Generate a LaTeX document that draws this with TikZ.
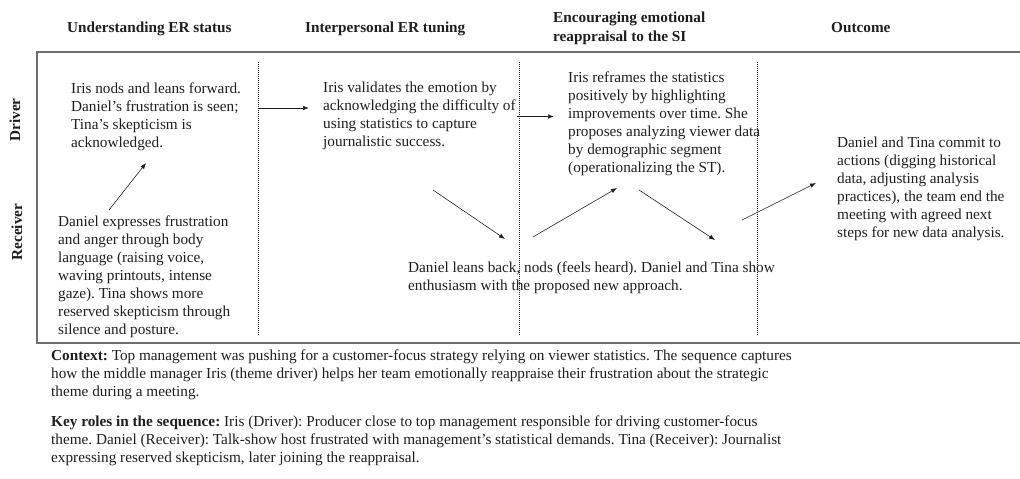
\documentclass[tikz,border=0pt]{standalone}
\usepackage{fontspec}
\setmainfont{Liberation Serif}
\usetikzlibrary{arrows.meta}
\definecolor{ink}{HTML}{1E1E1E}
\definecolor{framegray}{HTML}{6E6E6E}
\newcommand{\bodyfont}{\fontsize{15.25}{18}\selectfont\frenchspacing}
\begin{document}
\begin{tikzpicture}[x=1pt,y=-1pt,
  txt/.style={font=\bodyfont,anchor=north west,inner sep=0pt,align=left,text=ink},
  head/.style={font=\bodyfont\bfseries,anchor=base west,inner sep=0pt,align=left,text=ink},
  headtop/.style={txt,font=\bodyfont\bfseries},
  lane/.style={font=\bodyfont\bfseries,inner sep=0pt,rotate=90,text=ink},
  flow/.style={-{Latex[length=6pt,width=4.5pt]},line width=0.6pt,draw=ink},
  divider/.style={line width=0.7pt,dash pattern=on 1pt off 1pt,draw=ink},
  frame/.style={line width=1.3pt,draw=framegray}]

\useasboundingbox (0,0) rectangle (1020,479);

% column headings
\node[head] (h1) at (67,32) {Understanding ER status};
\node[head] (h2) at (305,32) {Interpersonal ER tuning};
\node[headtop] (h3) at (553,10.2) {\strut Encouraging emotional\\reappraisal to the SI};
\node[head] (h4) at (831,32) {Outcome};

% swim-lane labels
\node[lane] (ldriver) at (15,120) {Driver};
\node[lane] (lreceiver) at (17,232) {Receiver};

% frame (open on the right)
\draw[frame] (1020,52) -- (37,52) -- (37,343) -- (1020,343);

% phase dividers
\foreach \xd/\nm in {258.5/d1,519/d2,757/d3}{
  \coordinate (\nm top) at (\xd,62);
  \coordinate (\nm bot) at (\xd,335);
  \draw[divider] (\nm top) -- (\nm bot);
}

% sequence steps
\node[txt] (a1) at (71,80.4) {\strut Iris nods and leans forward.\\Daniel’s frustration is seen;\\Tina’s skepticism is\\acknowledged.};
\node[txt] (r1) at (58,214) {\strut Daniel expresses frustration\\and anger through body\\language (raising voice,\\waving printouts, intense\\gaze). Tina shows more\\reserved skepticism through\\silence and posture.};
\node[txt] (a2) at (323,79.4) {\strut Iris validates the emotion by\\acknowledging the difficulty of\\using statistics to capture\\journalistic success.};
\node[txt] (r2) at (408,259.4) {\strut Daniel leans back, nods (feels heard). Daniel and Tina show\\enthusiasm with the proposed new approach.};
\node[txt] (a3) at (568,69.4) {\strut Iris reframes the statistics\\positively by highlighting\\improvements over time. She\\proposes analyzing viewer data\\by demographic segment\\(operationalizing the ST).};
\node[txt] (out) at (837,134.4) {\strut Daniel and Tina commit to\\actions (digging historical\\data, adjusting analysis\\practices), the team end the\\meeting with agreed next\\steps for new data analysis.};

% notes below the frame
\node[txt] (ctx) at (51,347.4) {\strut\textbf{Context:} Top management was pushing for a customer-focus strategy relying on viewer statistics. The sequence captures\\how the middle manager Iris (theme driver) helps her team emotionally reappraise their frustration about the strategic\\theme during a meeting.};
\node[txt] (roles) at (51,413.4) {\strut\textbf{Key roles in the sequence:} Iris (Driver): Producer close to top management responsible for driving customer-focus\\theme. Daniel (Receiver): Talk-show host frustrated with management’s statistical demands. Tina (Receiver): Journalist\\expressing reserved skepticism, later joining the reappraisal.};

% connector end points
\coordinate (r1a1s) at (109,210);
\coordinate (r1a1e) at (146,163);
\coordinate (a1a2s) at (259,108);
\coordinate (a1a2e) at (309,108);
\coordinate (a2r2s) at (433,190);
\coordinate (a2r2e) at (505,239);
\coordinate (a2a3s) at (517,116.5);
\coordinate (a2a3e) at (554,116.5);
\coordinate (r2a3s) at (533,237);
\coordinate (r2a3e) at (617,188);
\coordinate (a3r2s) at (639,190);
\coordinate (a3r2e) at (715,240);
\coordinate (r2outs) at (742,220);
\coordinate (r2oute) at (816,183);

\draw[flow] (r1a1s) -- (r1a1e);
\draw[flow] (a1a2s) -- (a1a2e);
\draw[flow] (a2r2s) -- (a2r2e);
\draw[flow] (a2a3s) -- (a2a3e);
\draw[flow] (r2a3s) -- (r2a3e);
\draw[flow] (a3r2s) -- (a3r2e);
\draw[flow] (r2outs) -- (r2oute);
\end{tikzpicture}
\end{document}
